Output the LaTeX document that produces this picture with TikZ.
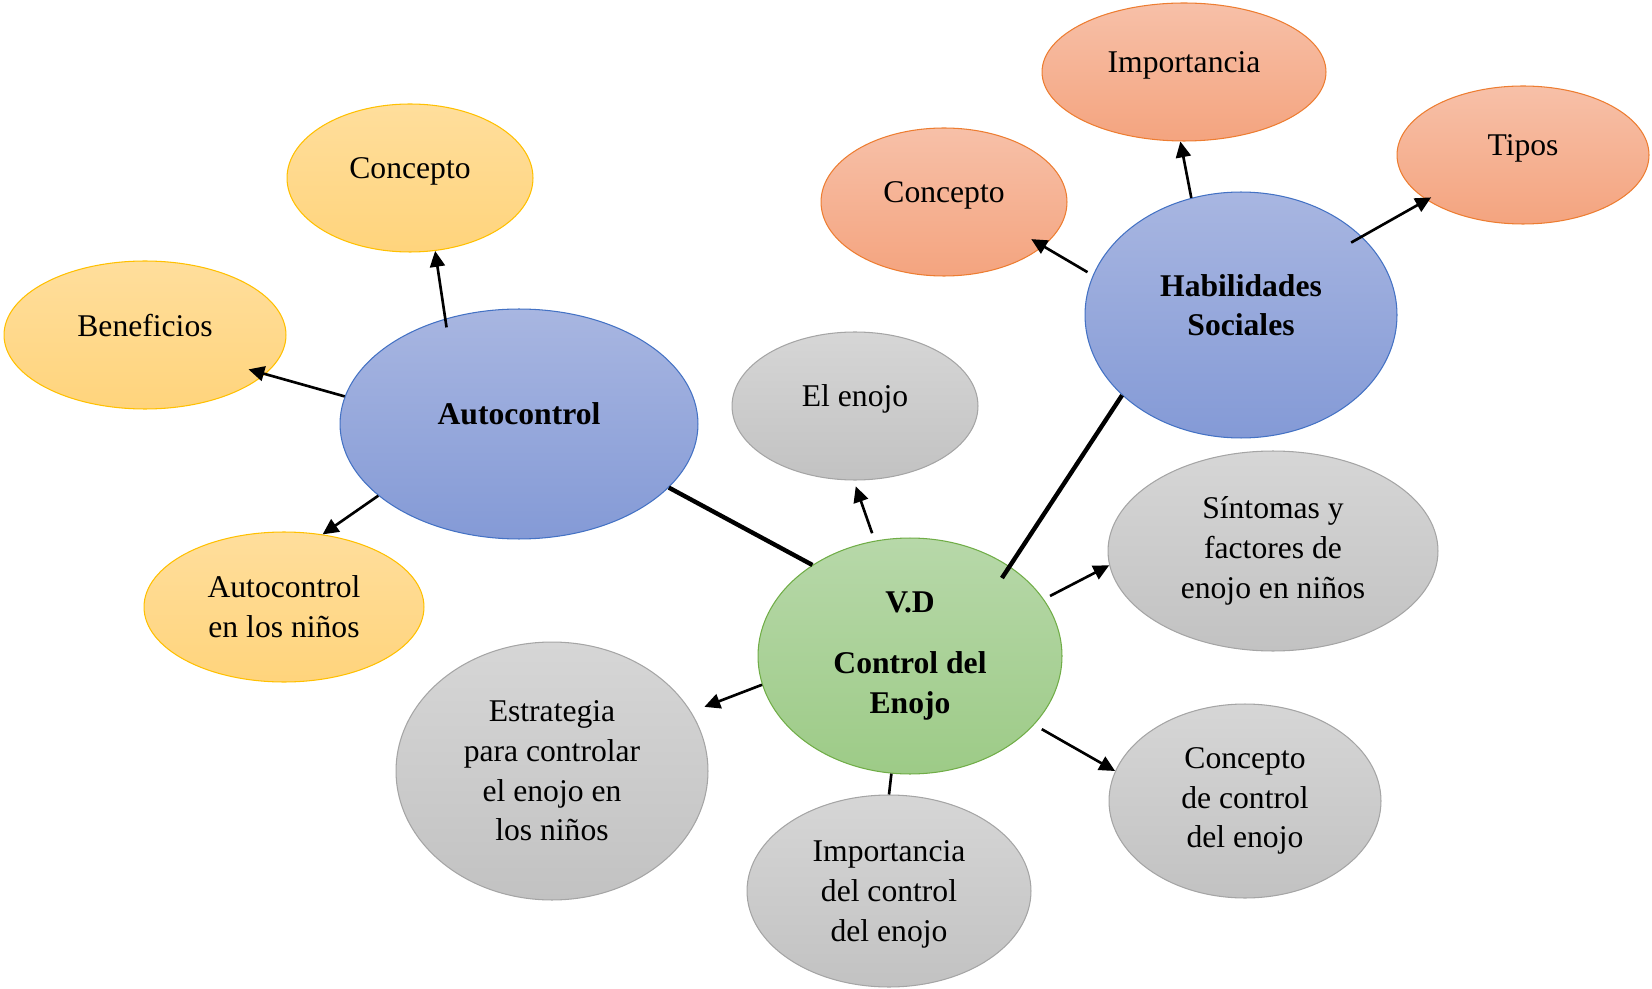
\documentclass[tikz,border=0pt]{standalone}
\usepackage{fontspec}
\setmainfont{Liberation Serif}
\usepackage{xcolor}
\usetikzlibrary{shapes.geometric,arrows.meta}

\definecolor{blueTop}{HTML}{A8B6E1}
\definecolor{blueBot}{HTML}{849AD6}
\definecolor{blueLine}{HTML}{4472C4}
\definecolor{yelTop}{HTML}{FFDE9C}
\definecolor{yelBot}{HTML}{FFD47C}
\definecolor{yelLine}{HTML}{FFC000}
\definecolor{oraTop}{HTML}{F7C0A8}
\definecolor{oraBot}{HTML}{F4A47F}
\definecolor{oraLine}{HTML}{ED7D31}
\definecolor{grayTop}{HTML}{D6D6D6}
\definecolor{grayBot}{HTML}{C2C2C2}
\definecolor{grayLine}{HTML}{A5A5A5}
\definecolor{greenTop}{HTML}{B7D8A9}
\definecolor{greenBot}{HTML}{9DCB87}
\definecolor{greenLine}{HTML}{70AD47}

\newcommand{\bubfont}{\fontsize{18}{22.6}\selectfont}

\tikzset{
  bubble/.style={ellipse, inner sep=0pt, align=center, line width=0.6pt, font=\bubfont},
  blueb/.style={bubble, draw=blueLine, top color=blueTop, bottom color=blueBot, font=\bubfont\bfseries},
  yelb/.style={bubble, draw=yelLine, top color=yelTop, bottom color=yelBot},
  orab/.style={bubble, draw=oraLine, top color=oraTop, bottom color=oraBot},
  grayb/.style={bubble, draw=grayLine, top color=grayTop, bottom color=grayBot},
  greenb/.style={bubble, draw=greenLine, top color=greenTop, bottom color=greenBot, font=\bubfont\bfseries},
  lifted/.style={text depth=11.5pt},
  arr/.style={line width=1.5pt, -{Triangle[length=9pt,width=8.5pt]}},
  joint/.style={line width=2.5pt},
  plainline/.style={line width=1.5pt}
}

\begin{document}
\begin{tikzpicture}[x=0.02cm, y=-0.02cm]
\useasboundingbox (0,0) rectangle (1652,989);

\node[blueb, lifted, minimum width=7.16cm, minimum height=4.6cm] (auto) at (519,424) {Autocontrol};
\node[yelb, lifted, minimum width=4.92cm, minimum height=2.96cm] (conA) at (410,178) {Concepto};
\node[yelb, lifted, minimum width=5.64cm, minimum height=2.96cm] (ben) at (145,335) {Beneficios};
\node[yelb, minimum width=5.6cm, minimum height=3cm] (nin) at (284,607) {Autocontrol\\en los niños};

\node[greenb, minimum width=6.08cm, minimum height=4.72cm] (vd) at (910,656) {V.D\\[12pt]Control del\\Enojo};
\node[grayb, lifted, minimum width=4.92cm, minimum height=2.96cm] (enojo) at (855,406) {El enojo};
\node[grayb, minimum width=6.6cm, minimum height=4cm] (sin) at (1273,551) {Síntomas y\\factores de\\enojo en niños};
\node[grayb, minimum width=5.44cm, minimum height=3.88cm] (ccon) at (1245,801) {Concepto\\de control\\del enojo};
\node[grayb, minimum width=5.68cm, minimum height=3.84cm, text depth=0pt] (imp) at (889,891) {Importancia\\del control\\del enojo};
\node[grayb, minimum width=6.24cm, minimum height=5.16cm] (est) at (552,771) {Estrategia\\para controlar\\el enojo en\\los niños};

\node[blueb, lifted, minimum width=6.24cm, minimum height=4.92cm] (hab) at (1241,315) {Habilidades\\Sociales};
\node[orab, lifted, minimum width=4.92cm, minimum height=2.96cm] (conH) at (944,202) {Concepto};
\node[orab, lifted, minimum width=5.68cm, minimum height=2.76cm] (impH) at (1184,72) {Importancia};
\node[orab, lifted, minimum width=5.04cm, minimum height=2.76cm] (tip) at (1523,155) {Tipos};

\draw[arr, shorten <=-5pt] (auto.125) -- (conA.-71);
\draw[arr, shorten >=-10pt] (auto.171) -- (ben.-18);
\draw[arr] (auto.207) -- (nin.62);
\draw[joint] (auto.-23) -- (vd.137);

\draw[arr, shorten <=4.5pt, shorten >=3.5pt] (vd.107) -- (enojo.-91);
\draw[joint, shorten <=-8pt] (vd.42) -- (hab.214);
\draw[arr, shorten <=4pt] (vd.23) -- (sin.185);
\draw[arr, shorten >=8pt] (vd.191) -- (est.23);
\draw[arr, shorten <=5pt] (vd.-29) -- (ccon.167);
\draw[plainline] (vd.-99) -- (imp.north);

\draw[arr, shorten <=3.5pt, shorten >=-8pt] (hab.165) -- (conH.-24);
\draw[arr] (hab.113) -- (impH.-93);
\draw[arr, shorten <=-7pt, shorten >=-3pt] (hab.33) -- (tip.205);
\end{tikzpicture}
\end{document}
